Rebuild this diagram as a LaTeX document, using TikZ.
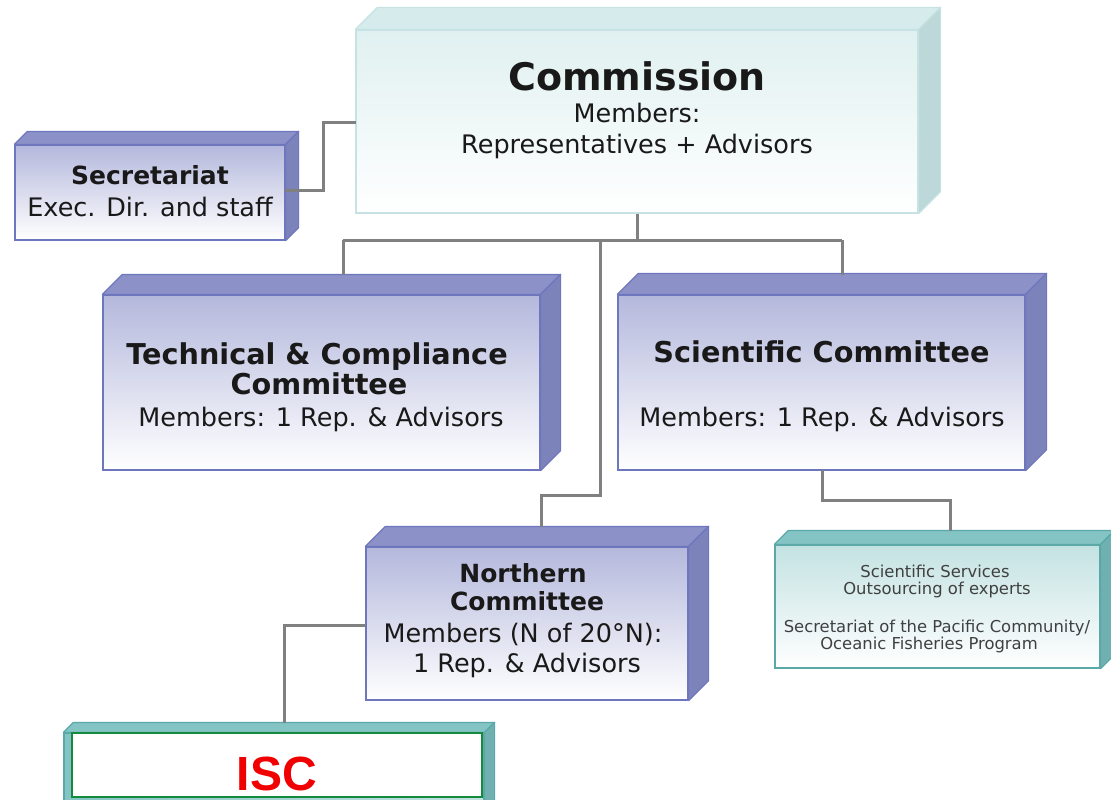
\documentclass[tikz,border=0pt]{standalone}
\usepackage{fontspec}
\setmainfont{DejaVu Sans}
\newfontfamily\iscfont{Liberation Sans}
\usetikzlibrary{calc}
\definecolor{pbord}{HTML}{6E76BE}
\definecolor{ptop}{HTML}{8C91C8}
\definecolor{pside}{HTML}{7C82BA}
\definecolor{pfront}{HTML}{B4B8DC}
\definecolor{cbord}{HTML}{C6E2E2}
\definecolor{ctop}{HTML}{D6ECEC}
\definecolor{cside}{HTML}{BCD8D8}
\definecolor{cfront}{HTML}{E0F0F0}
\definecolor{tbord}{HTML}{5AA8A8}
\definecolor{ttop}{HTML}{84C4C4}
\definecolor{tside}{HTML}{70B0B0}
\definecolor{tfront}{HTML}{C4E2E2}
\definecolor{conncol}{HTML}{808080}
\definecolor{iscgreen}{HTML}{138A3C}
\definecolor{iscred}{HTML}{F00000}
\tikzset{
  front/.style={rectangle, inner sep=0pt, line width=1.2pt},
  pbox/.style={front, draw=pbord, top color=pfront, bottom color=white},
  cbox/.style={front, draw=cbord, top color=cfront, bottom color=white},
  tbox/.style={front, draw=tbord, top color=tfront, bottom color=white},
  conn/.style={draw=conncol, line width=3pt},
  ln/.style={anchor=base, inner sep=0pt, text=black!90},
  title/.style={ln, font=\fontsize{28.7}{30}\selectfont\bfseries},
  mtitle/.style={ln, font=\fontsize{25}{30}\selectfont\bfseries},
  body/.style={ln, font=\fontsize{25.5}{30}\selectfont},
  small/.style={ln, text=black!75, font=\fontsize{16.4}{18}\selectfont},
}
% #1 node name, #2 depth, #3 top colour, #4 side colour, #5 border colour
\newcommand\boxfaces[5]{%
  \filldraw[fill=#3, draw=#5, line width=1.2pt, line join=round]
    (#1.north west) -- ++(#2,-#2) -- ($(#1.north east)+(#2,-#2)$) -- (#1.north east) -- cycle;
  \filldraw[fill=#4, draw=#5, line width=1.2pt, line join=round]
    (#1.north east) -- ++(#2,-#2) -- ($(#1.south east)+(#2,-#2)$) -- (#1.south east) -- cycle;
}
\begin{document}
\begin{tikzpicture}[x=1pt,y=-1pt]
\useasboundingbox (0,0) rectangle (1111,800);
% boxes
\node[cbox, minimum width=562pt, minimum height=183pt] (comm) at (637,121.5) {};
\boxfaces{comm}{22}{ctop}{cside}{cbord}
\node[pbox, minimum width=270pt, minimum height=95pt] (sec) at (150,192.5) {};
\boxfaces{sec}{13}{ptop}{pside}{pbord}
\node[pbox, minimum width=437pt, minimum height=175pt] (tcc) at (321.5,382.5) {};
\boxfaces{tcc}{20}{ptop}{pside}{pbord}
\node[pbox, minimum width=407pt, minimum height=175pt] (sc) at (821.5,382.5) {};
\boxfaces{sc}{21}{ptop}{pside}{pbord}
\node[pbox, minimum width=322pt, minimum height=153pt] (nc) at (527,623.5) {};
\boxfaces{nc}{20}{ptop}{pside}{pbord}
\node[tbox, minimum width=325pt, minimum height=123pt] (ss) at (937.5,606.5) {};
\boxfaces{ss}{14}{ttop}{tside}{tbord}
\node[front, draw=tbord, left color=ttop, right color=tfront, minimum width=420pt, minimum height=80pt] (iscout) at (274,773) {};
\boxfaces{iscout}{10}{ttop}{tside}{tbord}
\node[rectangle, draw=iscgreen, fill=white, line width=1.6pt, minimum width=410pt, minimum height=64pt, inner sep=0pt] (isc) at (277,765) {};
% texts
\node[ln, font=\fontsize{38}{40}\selectfont\bfseries] (commt1) at (637,91) {Commission};
\node[body] (commt2) at (637,122) {Members:};
\node[body] (commt3) at (637,153) {Representatives + Advisors};
\node[mtitle] (sect1) at (150,184) {Secretariat};
\node[body] (sect2) at (150,216) {Exec. Dir. and staff};
\node[title] (tcct1) at (317,364) {Technical \& Compliance};
\node[title] (tcct2) at (319,394) {Committee};
\node[body] (tcct3) at (321,426) {Members: 1 Rep. \& Advisors};
\node[title] (sct1) at (821.5,362) {Scientific Committee};
\node[body] (sct2) at (822,426) {Members: 1 Rep. \& Advisors};
\node[mtitle] (nct1) at (523,582) {Northern};
\node[mtitle] (nct2) at (527,610) {Committee};
\node[body] (nct3) at (523,642) {Members (N of 20°N):};
\node[body] (nct4) at (527,672) {1 Rep. \& Advisors};
\node[small] (sst1) at (935,577) {Scientific Services};
\node[small] (sst2) at (937,594) {Outsourcing of experts};
\node[small] (sst3) at (937,632) {Secretariat of the Pacific Community/};
\node[small] (sst4) at (929,649) {Oceanic Fisheries Program};
\node[inner sep=0pt, text=iscred, anchor=base] (isct) at (277,790) {\iscfont\fontsize{48}{50}\selectfont\bfseries ISC};
% connectors
\coordinate (bus) at (637,240);
\coordinate (tcctop) at (343,275);
\coordinate (sctop) at (842,275);
\coordinate (ncbranch) at (600,240);
\coordinate (ncbend) at (600,495);
\coordinate (nctop) at (541,527);
\coordinate (scout) at (822,470);
\coordinate (scbend) at (822,500);
\coordinate (sstop) at (950,531);
\coordinate (isctop) at (284,723);
\coordinate (ncleft) at (366,625);
\coordinate (secout) at (285,190);
\coordinate (secbend) at (323,190);
\coordinate (commin) at (356,122);
\draw[conn] (secout) -- (secbend) |- (commin);
\draw[conn] (comm.south) -- (bus);
\draw[conn] (tcctop |- bus) -- (sctop |- bus);
\draw[conn] (tcctop |- bus) -- (tcctop);
\draw[conn] (sctop |- bus) -- (sctop);
\draw[conn] (ncbranch) -- (ncbend) -| (nctop);
\draw[conn] (scout) -- (scbend) -| (sstop);
\draw[conn] (ncleft) -| (isctop);
\end{tikzpicture}
\end{document}
